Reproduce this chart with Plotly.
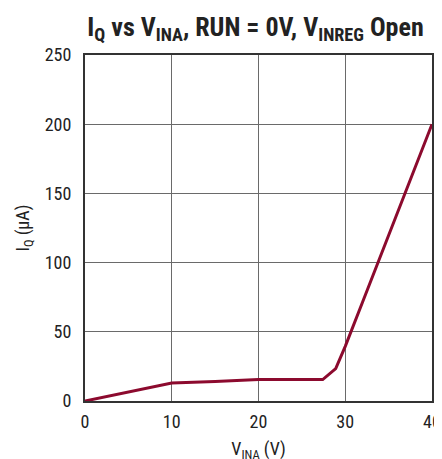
import plotly.graph_objects as go

v_ina = [0, 5, 10, 15, 20, 25, 27.4, 28.9, 30, 32, 35, 40]
i_q = [0, 6.5, 13, 14, 15.5, 15.5, 15.5, 23.4, 39.5, 71.5, 119.5, 200]

x_ticks = [0, 10, 20, 30, 40]
y_ticks = [0, 50, 100, 150, 200, 250]

FONT = "Liberation Sans Narrow, Roboto Condensed, DejaVu Sans Condensed, Arial Narrow, sans-serif"

fig = go.Figure()
fig.add_trace(go.Scatter(x=v_ina, y=i_q, mode="lines",
                         line=dict(color="#8c0a2e", width=3), showlegend=False))

fig.update_layout(
    width=442, height=459,
    margin=dict(l=77, r=18, t=47, b=66),
    paper_bgcolor="white", plot_bgcolor="white",
    font=dict(family=FONT, size=18, color="#222"),
    title=dict(text="<b>I<sub>Q</sub> vs V<sub>INA</sub>, RUN = 0V, V<sub>INREG</sub> Open</b>",
               x=0.56, xanchor="center", y=0.959, yanchor="middle",
               font=dict(family=FONT, size=26, color="#222")),
    xaxis=dict(range=[0, 40], tickvals=x_ticks, showgrid=True, gridcolor="#6a6a6a", gridwidth=1,
               zeroline=False, showline=True, linecolor="#333", linewidth=2, mirror=True,
               ticks="", ticklabelstandoff=3, automargin=False, ticklabeloverflow="allow",
               title=dict(text="V<sub>INA</sub> (V)", standoff=12, font=dict(size=18))),
    yaxis=dict(range=[0, 250], tickvals=y_ticks, showgrid=True, gridcolor="#6a6a6a", gridwidth=1,
               zeroline=False, showline=True, linecolor="#333", linewidth=2, mirror=True,
               ticks="", ticklabelstandoff=8, automargin=False,
               title=dict(text="I<sub>Q</sub> (µA)", standoff=10, font=dict(size=18))),
)

fig.write_html("out.html")
